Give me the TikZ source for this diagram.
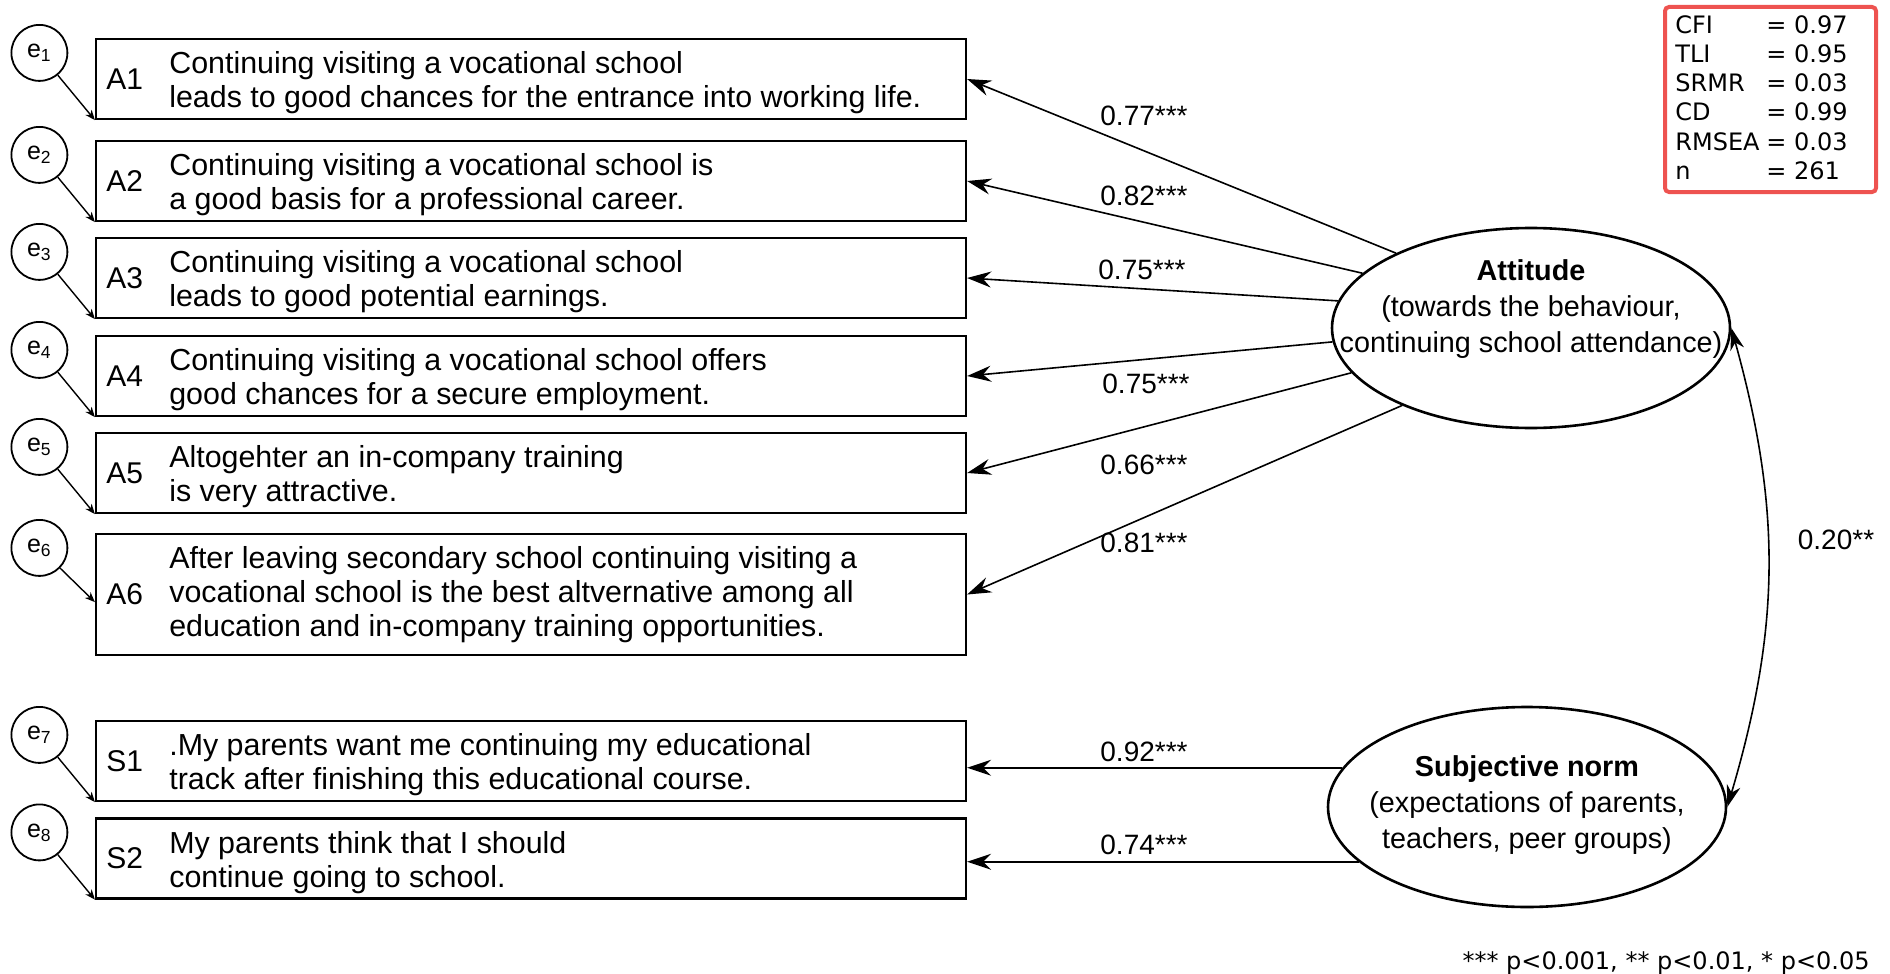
\documentclass[tikz,border=0pt]{standalone}
\usepackage{fontspec}
\setmainfont{Liberation Sans}
\newfontfamily\dejavu{DejaVu Sans}
\usetikzlibrary{arrows.meta,shapes.geometric,positioning}

\definecolor{fitred}{RGB}{238,83,80}

\tikzset{
  obs/.style={draw, line width=1.1pt, minimum width=435pt, minimum height=40pt, inner sep=0pt},
  code/.style={anchor=west, inner sep=0pt, xshift=5.5pt, font=\fontsize{15}{18}\selectfont},
  stmt/.style={anchor=west, inner sep=0pt, xshift=37pt, yshift=-2pt, align=left,
    font=\fontsize{15.2}{17}\selectfont},
  resid/.style={draw, circle, line width=0.9pt, minimum size=28pt, inner sep=0pt,
    xshift=-27.75pt, yshift=-7.5pt, font=\fontsize{12.5}{14}\selectfont},
  latent/.style={draw, ellipse, line width=1.3pt, minimum width=199pt, minimum height=100pt, inner sep=0pt},
  ltext/.style={align=center, inner sep=0pt, font=\fontsize{14.4}{17.8}\selectfont},
  coef/.style={inner sep=0pt, font=\fontsize{14}{17}\selectfont},
  load/.style={-{Stealth[length=12pt, width=8pt, inset=4pt]}, line width=0.8pt},
  erredge/.style={-{Stealth[length=5pt, width=4pt, inset=1.5pt]}, line width=0.7pt},
  cov/.style={{Stealth[length=11pt, width=7pt, inset=3.5pt]}-{Stealth[length=11pt, width=7pt, inset=3.5pt]},
    line width=0.8pt},
  fittext/.style={anchor=north west, inner sep=0pt, align=left, xshift=6pt, yshift=-5pt,
    font=\dejavu\fontsize{12}{14.6}\selectfont},
}

\begin{document}
\begin{tikzpicture}[x=0.5pt, y=0.5pt]
  \useasboundingbox (0,0) rectangle (1890,-974);

  % Indicator boxes
  \node[obs] (A1) at (531,-79) {}; %
  \node[obs] (A2) at (531,-181) {}; %
  \node[obs] (A3) at (531,-278) {}; %
  \node[obs] (A4) at (531,-376) {}; %
  \node[obs] (A5) at (531,-473) {}; %
  \node[obs, minimum height=60.5pt] (A6) at (531,-594.5) {}; %
  \node[obs] (S1) at (531,-761) {}; %
  \node[obs] (S2) at (531,-858.5) {}; %

  % Item codes
  \node[code] (A1-code) at (A1.west) {A1}; %
  \node[code] (A2-code) at (A2.west) {A2}; %
  \node[code] (A3-code) at (A3.west) {A3}; %
  \node[code] (A4-code) at (A4.west) {A4}; %
  \node[code] (A5-code) at (A5.west) {A5}; %
  \node[code] (A6-code) at (A6.west) {A6}; %
  \node[code] (S1-code) at (S1.west) {S1}; %
  \node[code] (S2-code) at (S2.west) {S2}; %

  % Item wording
  \node[stmt] (A1-text) at (A1.west)
  {Continuing visiting a vocational school\\leads to good chances for the entrance into working life.}; %
  \node[stmt] (A2-text) at (A2.west)
  {Continuing visiting a vocational school is\\a good basis for a professional career.}; %
  \node[stmt] (A3-text) at (A3.west)
  {Continuing visiting a vocational school\\leads to good potential earnings.}; %
  \node[stmt] (A4-text) at (A4.west)
  {Continuing visiting a vocational school offers\\good chances for a secure employment.}; %
  \node[stmt] (A5-text) at (A5.west)
  {Altogehter an in-company training\\is very attractive.}; %
  \node[stmt, yshift=2pt] (A6-text) at (A6.west)
  {After leaving secondary school continuing visiting a\\vocational school is the best altvernative among all\\education and in-company training opportunities.}; %
  \node[stmt] (S1-text) at (S1.west)
  {.My parents want me continuing my educational\\track after finishing this educational course.}; %
  \node[stmt] (S2-text) at (S2.west)
  {My parents think that I should\\continue going to school.}; %

  % Error terms
  \node[resid] (e1) at (A1.north west) {e\textsubscript{1}}; %
  \node[resid] (e2) at (A2.north west) {e\textsubscript{2}}; %
  \node[resid] (e3) at (A3.north west) {e\textsubscript{3}}; %
  \node[resid] (e4) at (A4.north west) {e\textsubscript{4}}; %
  \node[resid] (e5) at (A5.north west) {e\textsubscript{5}}; %
  \node[resid] (e6) at (A6.north west) {e\textsubscript{6}}; %
  \node[resid] (e7) at (S1.north west) {e\textsubscript{7}}; %
  \node[resid] (e8) at (S2.north west) {e\textsubscript{8}}; %

  % Latent constructs
  \node[latent] (att) at (1531,-328) {}; %
  \node[ltext] (att-text) at (1531,-309)
  {\textbf{Attitude}\\(towards the behaviour,\\continuing school attendance)}; %
  \node[latent] (sn) at (1527,-807) {}; %
  \node[ltext] (sn-text) at (1527,-805)
  {\textbf{Subjective norm}\\(expectations of parents,\\teachers, peer groups)}; %

  % Loadings
  \draw[load] (att.151.5) -- (A1.east); %
  \draw[load] (att.162)   -- (A2.east); %
  \draw[load] (att.172.7) -- (A3.east); %
  \draw[load] (att.184)   -- (A4.east); %
  \draw[load] (att.194.4) -- (A5.east); %
  \draw[load] (att.211.7) -- (A6.east); %
  \draw[load] (sn.168.7)  -- (sn.168.7 -| S1.east); %
  \draw[load] (sn.198.8)  -- (sn.198.8 -| S2.east); %

  \node[coef] (c-A1) at (1144,-116) {0.77***}; %
  \node[coef] (c-A2) at (1144,-196) {0.82***}; %
  \node[coef] (c-A3) at (1142,-270) {0.75***}; %
  \node[coef] (c-A4) at (1146,-384) {0.75***}; %
  \node[coef] (c-A5) at (1144,-465) {0.66***}; %
  \node[coef] (c-A6) at (1144,-543) {0.81***}; %
  \node[coef] (c-S1) at (1144,-752) {0.92***}; %
  \node[coef] (c-S2) at (1144,-845) {0.74***}; %

  % Error paths
  \draw[erredge] (e1) -- (A1.south west); %
  \draw[erredge] (e2) -- (A2.south west); %
  \draw[erredge] (e3) -- (A3.south west); %
  \draw[erredge] (e4) -- (A4.south west); %
  \draw[erredge] (e5) -- (A5.south west); %
  \draw[erredge] (e6) -- (A6.181.8); %
  \draw[erredge] (e7) -- (S1.south west); %
  \draw[erredge] (e8) -- (S2.south west); %

  % Correlation of the constructs
  \draw[cov] (att.east) to[bend left=16] (sn.east); %
  \node[coef] (c-cov) at (1836,-540) {0.20**}; %

  % Fit indices
  \node[draw=fitred, line width=2pt, rounded corners=2pt,
    minimum width=105.5pt, minimum height=92.5pt] (fit) at (1770.5,-99.5) {}; %
  \node[fittext] (fit-text) at (fit.north west)
  {\makebox[45.5pt][l]{CFI}= 0.97\\
   \makebox[45.5pt][l]{TLI}= 0.95\\
   \makebox[45.5pt][l]{SRMR}= 0.03\\
   \makebox[45.5pt][l]{CD}= 0.99\\
   \makebox[45.5pt][l]{RMSEA}= 0.03\\
   \makebox[45.5pt][l]{n}= 261}; %

  \node[anchor=base east, inner sep=0pt, font=\dejavu\fontsize{12}{14}\selectfont] (note)
  at (1870,-969) {*** p<0.001, ** p<0.01, * p<0.05}; %

\end{tikzpicture}
\end{document}
